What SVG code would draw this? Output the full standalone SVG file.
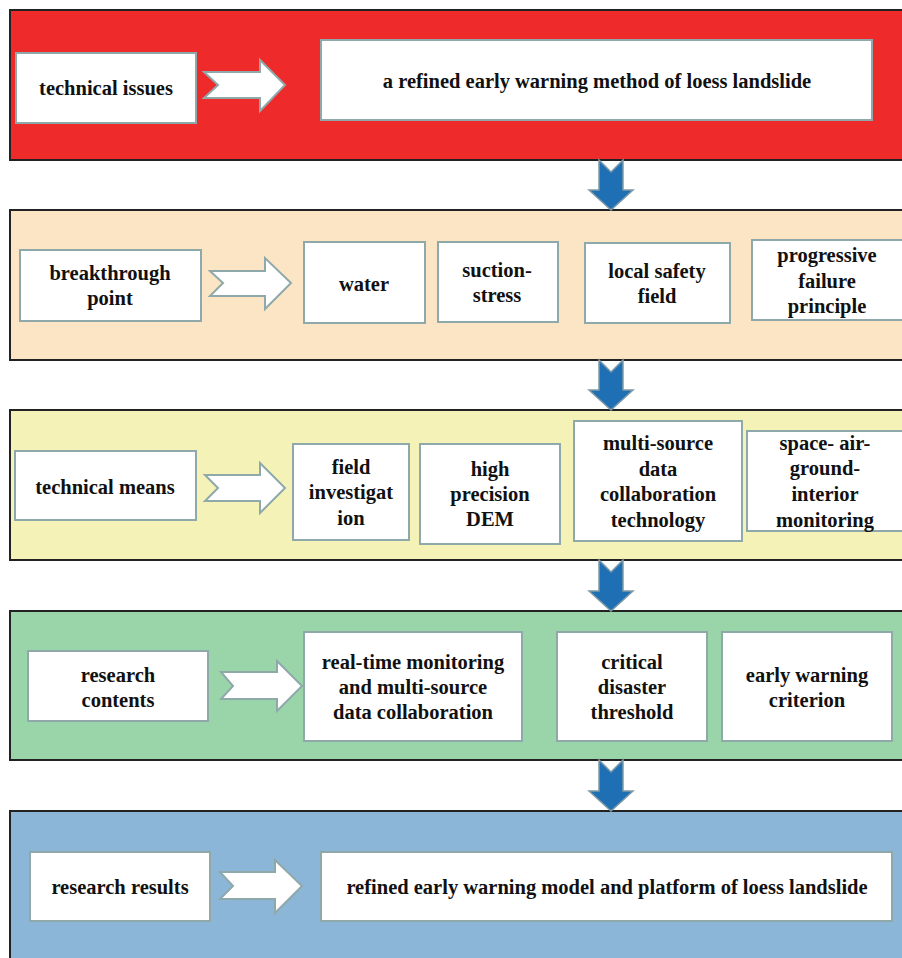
<svg xmlns="http://www.w3.org/2000/svg" width="902" height="958" viewBox="0 0 902 958" font-family="'Liberation Serif', 'Times New Roman', serif" font-weight="bold" font-size="20.5">
<style>
.band{stroke:#222;stroke-width:2}
.box{fill:#fff;stroke:#8fa8aa;stroke-width:2}
.ra{fill:#fff;stroke:#8fa8aa;stroke-width:2;stroke-linejoin:miter}
.da{fill:#1f6fb4;stroke:#7f9aa6;stroke-width:1.5}
.t{fill:#111;text-anchor:middle}
</style>
<rect width="902" height="958" fill="#fff"/>
<rect class="band" x="10" y="10" width="910" height="150" fill="#ee2a2a"/>
<rect class="band" x="10" y="210" width="910" height="150" fill="#fbe5c4"/>
<rect class="band" x="10" y="410" width="910" height="150" fill="#f5f2b8"/>
<rect class="band" x="10" y="611" width="910" height="149" fill="#9ad5aa"/>
<rect class="band" x="10" y="811" width="910" height="160" fill="#8cb6d8"/>

<g id="connectors">
<polygon class="ra" points="204,72 260,72 260,60 285,85 260,111 260,98 204,98 218,85"/>
<polygon class="ra" points="210,271 265,271 265,258 291,283 265,309 265,296 210,296 223,283"/>
<polygon class="ra" points="205,475 260,475 260,463 285,488 260,513 260,501 205,501 218,488"/>
<polygon class="ra" points="221,672 277,672 277,661 302,686 277,711 277,699 221,699 233,686"/>
<polygon class="ra" points="220,872 275,872 275,860 302,886 275,913 275,899 220,899 233,886"/>
<polygon class="da" points="599,160 611,172 623,160 623,190 633,190 611,210 589,190 599,190"/>
<polygon class="da" points="599,360 611,372 623,360 623,390 633,390 611,410 589,390 599,390"/>
<polygon class="da" points="599,560 611,572 623,560 623,591 633,591 611,611 589,591 599,591"/>
<polygon class="da" points="599,760 611,772 623,760 623,791 633,791 611,811 589,791 599,791"/>
</g>

<g class="t">
<g id="n-technical-issues"><rect class="box" x="16" y="53" width="180" height="70"/><text x="106" y="95">technical issues</text></g>
<g id="n-refined-method"><rect class="box" x="321" y="40" width="551" height="80"/><text x="597" y="88">a refined early warning method of loess landslide</text></g>

<g id="n-breakthrough"><rect class="box" x="20" y="250" width="181" height="71"/><text x="110" y="280">breakthrough</text><text x="110" y="305">point</text></g>
<g id="n-water"><rect class="box" x="304" y="242" width="121" height="81"/><text x="364" y="291">water</text></g>
<g id="n-suction"><rect class="box" x="438" y="242" width="120" height="80"/><text x="497" y="277">suction-</text><text x="497" y="302">stress</text></g>
<g id="n-local"><rect class="box" x="585" y="243" width="145" height="80"/><text x="657" y="278">local safety</text><text x="657" y="303">field</text></g>
<g id="n-progressive"><rect class="box" x="752" y="240" width="160" height="80"/><text x="827" y="262">progressive</text><text x="827" y="288">failure</text><text x="827" y="313">principle</text></g>

<g id="n-technical-means"><rect class="box" x="15" y="451" width="181" height="69"/><text x="105" y="494">technical means</text></g>
<g id="n-field"><rect class="box" x="293" y="444" width="116" height="96"/><text x="351" y="474">field</text><text x="351" y="499">investigat</text><text x="351" y="525">ion</text></g>
<g id="n-dem"><rect class="box" x="420" y="444" width="140" height="100"/><text x="490" y="476">high</text><text x="490" y="501">precision</text><text x="490" y="526">DEM</text></g>
<g id="n-multisource"><rect class="box" x="574" y="421" width="168" height="120"/><text x="658" y="450">multi-source</text><text x="658" y="476">data</text><text x="658" y="501">collaboration</text><text x="658" y="527">technology</text></g>
<g id="n-space"><rect class="box" x="747" y="431" width="165" height="100"/><text x="825" y="450">space- air-</text><text x="825" y="475">ground-</text><text x="825" y="501">interior</text><text x="825" y="527">monitoring</text></g>

<g id="n-research-contents"><rect class="box" x="28" y="651" width="180" height="70"/><text x="118" y="682">research</text><text x="118" y="707">contents</text></g>
<g id="n-realtime"><rect class="box" x="304" y="632" width="218" height="109"/><text x="413" y="669">real-time monitoring</text><text x="413" y="694">and multi-source</text><text x="413" y="719">data collaboration</text></g>
<g id="n-critical"><rect class="box" x="557" y="632" width="150" height="109"/><text x="632" y="669">critical</text><text x="632" y="694">disaster</text><text x="632" y="719">threshold</text></g>
<g id="n-criterion"><rect class="box" x="722" y="632" width="170" height="109"/><text x="807" y="682">early warning</text><text x="807" y="707">criterion</text></g>

<g id="n-research-results"><rect class="box" x="30" y="852" width="180" height="69"/><text x="120" y="894">research results</text></g>
<g id="n-model"><rect class="box" x="321" y="852" width="571" height="69"/><text x="607" y="894">refined early warning model and platform of loess landslide</text></g>
</g>
</svg>
